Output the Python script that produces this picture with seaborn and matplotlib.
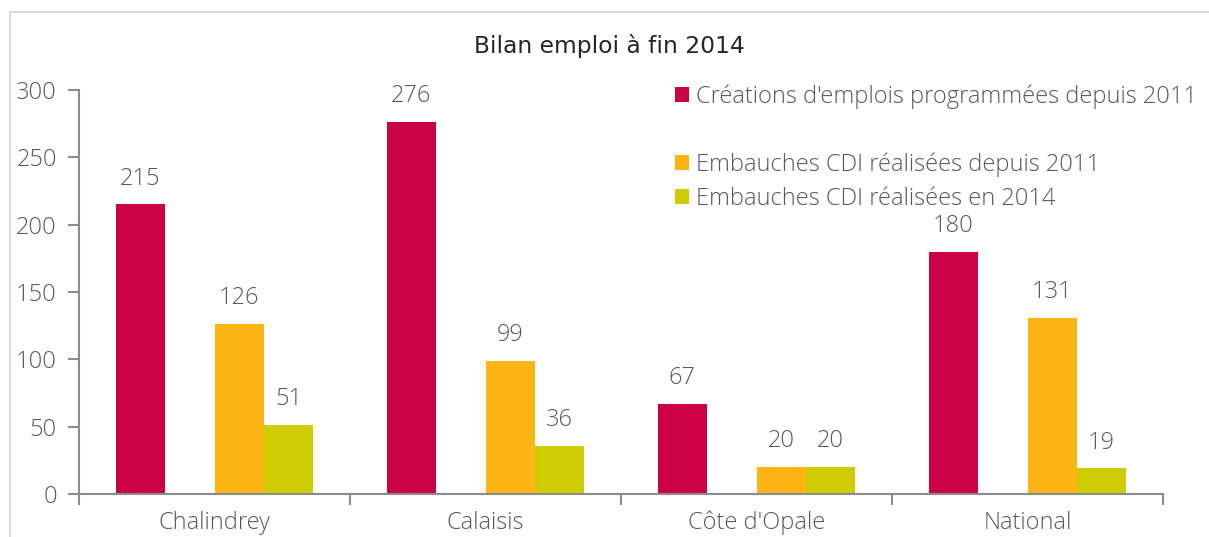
import matplotlib
matplotlib.use("Agg")
import numpy as np
import pandas as pd
import seaborn as sns
import matplotlib.pyplot as plt
from matplotlib.patches import Patch, Rectangle

# data
territoires = ["Chalindrey", "Calaisis", "Côte d'Opale", "National"]
series = ["Créations d'emplois programmées depuis 2011", " ",
          "Embauches CDI réalisées depuis 2011", "Embauches CDI réalisées en 2014"]
creations = [215, 276, 67, 180]
vide = [0, 0, 0, 0]
cdi_depuis_2011 = [126, 99, 20, 131]
cdi_2014 = [51, 36, 20, 19]
couleurs = ["#CC0044", "#FFFFFF", "#FDB515", "#CCCC00"]

rows = []
for s, vals in zip(series, [creations, vide, cdi_depuis_2011, cdi_2014]):
    for t, v in zip(territoires, vals):
        rows.append({"territoire": t, "serie": s, "valeur": v})
df = pd.DataFrame(rows)

sns.set_style("white")
plt.rcParams['font.family'] = ['Open Sans', 'DejaVu Sans']
grey = "#595959"
axis_grey = "#8C8C8C"
fs = 17
fw = "light"

fig = plt.figure(figsize=(12.09, 5.37), dpi=100)
ax = fig.add_axes([79/1209, 1-494/537, (1163-79)/1209, (494-90)/537])

sns.barplot(data=df, x="territoire", y="valeur", hue="serie", hue_order=series,
            palette=couleurs, width=0.73, gap=0, saturation=1, legend=False,
            errorbar=None, ax=ax, edgecolor="none")

for cont, s in zip(ax.containers, series):
    if s.strip():
        ax.bar_label(cont, padding=10, fontsize=fs, color=grey, fontweight=fw)

ax.set_ylim(0, 300)
ax.set_xlim(-0.5, 3.5)
ax.set_yticks(range(0, 301, 50))
ax.set_xlabel("")
ax.set_ylabel("")
ax.tick_params(axis="y", labelsize=fs, labelcolor=grey, color=axis_grey,
               length=8, width=1.5, left=True, pad=8)
ax.tick_params(axis="x", which="major", length=0, labelsize=fs, labelcolor=grey, pad=12)
ax.set_xticks(np.arange(-0.5, 3.6, 1), minor=True)
ax.tick_params(axis="x", which="minor", length=8, width=1.5, color=axis_grey, bottom=True)
for lab in ax.get_xticklabels() + ax.get_yticklabels():
    lab.set_fontweight(fw)

sns.despine(ax=ax, top=True, right=True)
ax.spines["left"].set_color(axis_grey)
ax.spines["bottom"].set_color(axis_grey)
ax.spines["left"].set_linewidth(1.5)
ax.spines["bottom"].set_linewidth(1.5)

fig.text(609/1209, 1-46/537, "Bilan emploi à fin 2014", ha="center", va="center",
         fontsize=16.8, color="#262626", family=["DejaVu Sans"])

handles = []
for s, c in zip(series, couleurs):
    if s.strip():
        handles.append(Patch(facecolor=c, edgecolor="none", label=s))
    else:
        handles.append(Patch(facecolor="none", edgecolor="none", label=""))
leg = fig.legend(handles=handles, loc="upper left", bbox_to_anchor=(675/1209, 1-84/537),
                 frameon=False, fontsize=fs, handlelength=0.6, handleheight=0.6,
                 handletextpad=0.3, labelspacing=0.42, borderaxespad=0, borderpad=0)
for t in leg.get_texts():
    t.set_color(grey)
    t.set_fontweight(fw)

# light grey chart frame
fig.patches.append(Rectangle((10/1209, -0.1), 1.2, 1 - 12/537 + 0.1, transform=fig.transFigure,
                             fill=False, edgecolor="#D9D9D9", linewidth=1.5))

fig.savefig("out.png", dpi=100)
